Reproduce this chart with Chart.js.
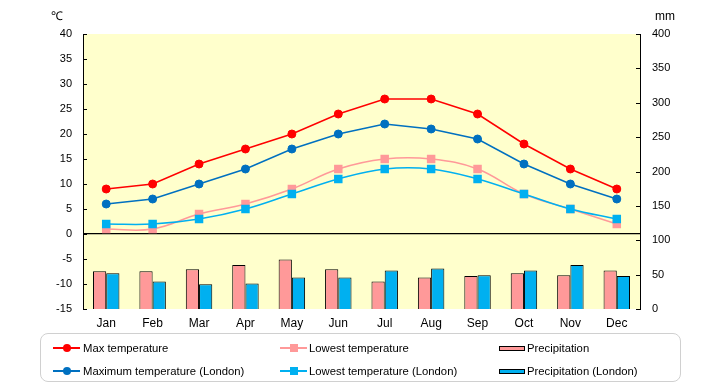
<!DOCTYPE html>
<html>
<head>
<meta charset="utf-8">
<script src="https://cdn.jsdelivr.net/npm/chart.js@4/dist/chart.umd.min.js"></script>
<style>
  html, body { margin: 0; padding: 0; background: #fff; }
  #wrap { position: relative; width: 720px; height: 385px; font-family: "Liberation Sans", Arial, sans-serif; }
  canvas { position: absolute; left: 0; top: 0; }
  .unit { position: absolute; font-size: 12px; color: #000; line-height: 12px; }
  #legend { position: absolute; left: 40px; top: 333px; width: 641px; height: 49px; border: 1.5px solid #d0d0d0; border-radius: 8px; box-sizing: border-box; }
  .lg { position: absolute; font-size: 11.3px; line-height: 14px; color: #000; white-space: nowrap; }
  .ln { position: absolute; height: 1.5px; }
  .dot { position: absolute; width: 8px; height: 8px; border-radius: 50%; }
  .sq { position: absolute; width: 8px; height: 8px; }
  .bx { position: absolute; width: 24px; height: 3px; border: 1px solid #000; }
</style>
</head>
<body>
<div id="wrap">
  <canvas id="c" width="720" height="385"></canvas>
  <div class="unit" style="left:51px; top:10px;">℃</div>
  <div class="unit" style="left:655px; top:10px;">mm</div>
  <div id="legend"></div>
</div>
<script>
const months = ['Jan','Feb','Mar','Apr','May','Jun','Jul','Aug','Sep','Oct','Nov','Dec'];
const maxTemp = [9,10,14,17,20,24,27,27,24,18,13,9];
const lowTemp = [1,1,4,6,9,13,15,15,13,8,5,2];
const precip = [55,55,58,64,72,58,40,46,48,52,49,56];
const maxLondon = [6,7,10,13,17,20,22,21,19,14,10,7];
const lowLondon = [2,2,3,5,8,11,13,13,11,8,5,3];
const precipLondon = [52,40,36,37,46,46,56,59,49,56,64,48];
const tempTicks = {min: -15, max: 40, step: 5};
const rainTicks = {min: 0, max: 400, step: 50};
const seriesNames = ['Max temperature','Lowest temperature','Precipitation','Maximum temperature (London)','Lowest temperature (London)','Precipitation (London)'];

const colors = {
  max: '#FF0000', low: '#FF9999', rain: '#FF9999',
  maxL: '#0070C0', lowL: '#00B0F0', rainL: '#00B0F0'
};

const bgPlugin = {
  id: 'bg',
  beforeDraw(chart) {
    const a = chart.chartArea, ctx = chart.ctx;
    ctx.save();
    ctx.fillStyle = '#FFFFCC';
    ctx.fillRect(a.left, a.top, a.right - a.left, a.bottom - a.top);
    ctx.restore();
  },
  afterDraw(chart) {
    const ctx = chart.ctx;
    ctx.save();
    ctx.strokeStyle = '#000';
    ctx.lineWidth = 1;
    const y = chart.scales.y, y2 = chart.scales.y2;
    y.ticks.forEach((t, i) => {
      const p = Math.round(y.getPixelForTick(i)) + 0.5;
      ctx.beginPath(); ctx.moveTo(y.right, p); ctx.lineTo(y.right + 4, p); ctx.stroke();
    });
    y2.ticks.forEach((t, i) => {
      const p = Math.round(y2.getPixelForTick(i)) + 0.5;
      ctx.beginPath(); ctx.moveTo(y2.left - 4, p); ctx.lineTo(y2.left, p); ctx.stroke();
    });
    ctx.restore();
  }
};

const tickFont = { family: '"Liberation Sans", Arial, sans-serif', size: 11 };

new Chart(document.getElementById('c'), {
  data: {
    labels: months,
    datasets: [
      { type: 'line', label: seriesNames[0], data: maxTemp, yAxisID: 'y', order: 2,
        borderColor: colors.max, backgroundColor: colors.max, borderWidth: 1.5,
        pointStyle: 'circle', pointRadius: 4, pointBorderWidth: 1, pointBackgroundColor: colors.max, pointBorderColor: colors.max, tension: 0 },
      { type: 'line', label: seriesNames[1], data: lowTemp, yAxisID: 'y', order: 4,
        borderColor: colors.low, backgroundColor: colors.low, borderWidth: 1.5,
        pointStyle: 'rect', pointRadius: 6, pointBorderWidth: 0, pointBackgroundColor: colors.low, tension: 0.4 },
      { type: 'bar', label: seriesNames[2], data: precip, yAxisID: 'y2', order: 10,
        backgroundColor: colors.rain, borderColor: '#000', borderWidth: 1, borderSkipped: 'bottom',
        categoryPercentage: 0.57, barPercentage: 1.0 },
      { type: 'line', label: seriesNames[3], data: maxLondon, yAxisID: 'y', order: 1,
        borderColor: colors.maxL, backgroundColor: colors.maxL, borderWidth: 1.5,
        pointStyle: 'circle', pointRadius: 4, pointBorderWidth: 1, pointBackgroundColor: colors.maxL, pointBorderColor: colors.maxL, tension: 0 },
      { type: 'line', label: seriesNames[4], data: lowLondon, yAxisID: 'y', order: 3,
        borderColor: colors.lowL, backgroundColor: colors.lowL, borderWidth: 1.5,
        pointStyle: 'rect', pointRadius: 6, pointBorderWidth: 0, pointBackgroundColor: colors.lowL, tension: 0.4 },
      { type: 'bar', label: seriesNames[5], data: precipLondon, yAxisID: 'y2', order: 10,
        backgroundColor: colors.rainL, borderColor: '#000', borderWidth: 1, borderSkipped: 'bottom',
        categoryPercentage: 0.57, barPercentage: 1.0 }
    ]
  },
  options: {
    responsive: false,
    animation: false,
    layout: { padding: { top: 34, bottom: 54, left: 0, right: 0 } },
    plugins: { legend: { display: false }, tooltip: { enabled: false } },
    scales: {
      x: {
        type: 'category', offset: true,
        grid: { display: false, drawTicks: false },
        border: { display: false },
        ticks: { color: '#000', font: { family: tickFont.family, size: 12 }, padding: 7, maxRotation: 0 },
        afterFit(s) { s.height = 22; }
      },
      y: {
        type: 'linear', position: 'left', min: tempTicks.min, max: tempTicks.max,
        ticks: { stepSize: tempTicks.step, color: '#000', font: tickFont, padding: 11 },
        grid: { drawTicks: false, color: (c) => (c.tick && c.tick.value === 0) ? '#000' : 'rgba(0,0,0,0)', lineWidth: 1.2 },
        border: { display: true, color: '#000', width: 1 },
        afterFit(s) { s.width = 83; }
      },
      y2: {
        type: 'linear', position: 'right', min: rainTicks.min, max: rainTicks.max,
        ticks: { stepSize: rainTicks.step, color: '#000', font: tickFont, padding: 12 },
        grid: { display: false, drawTicks: false },
        border: { display: true, color: '#000', width: 1 },
        afterFit(s) { s.width = 80; }
      }
    }
  },
  plugins: [bgPlugin]
});

// HTML legend
const lg = document.getElementById('legend');
const L = (html) => lg.insertAdjacentHTML('beforeend', html);
const ox = 40, oy = 333;
function lineItem(x1, x2, y, color, marker, tx, text) {
  L(`<div class="ln" style="left:${x1-ox}px; top:${y-oy-0.75}px; width:${x2-x1}px; background:${color};"></div>`);
  const cx = (x1 + x2) / 2;
  if (marker === 'dot') L(`<div class="dot" style="left:${cx-4-ox}px; top:${y-4-oy}px; background:${color};"></div>`);
  else L(`<div class="sq" style="left:${cx-4-ox}px; top:${y-4-oy}px; background:${color};"></div>`);
  L(`<div class="lg" style="left:${tx-ox}px; top:${y-7-oy}px;">${text}</div>`);
}
function boxItem(x, y, color, tx, text) {
  L(`<div class="bx" style="left:${x-ox}px; top:${y-2.5-oy}px; background:${color};"></div>`);
  L(`<div class="lg" style="left:${tx-ox}px; top:${y-7-oy}px;">${text}</div>`);
}
lineItem(52, 79, 347, colors.max, 'dot', 82, seriesNames[0]);
lineItem(52, 79, 370, colors.maxL, 'dot', 82, seriesNames[3]);
lineItem(279, 306, 347, colors.low, 'sq', 308, seriesNames[1]);
lineItem(279, 306, 370, colors.lowL, 'sq', 308, seriesNames[4]);
boxItem(498, 347, colors.rain, 526, seriesNames[2]);
boxItem(498, 370, colors.rainL, 526, seriesNames[5]);
</script>
</body>
</html>
